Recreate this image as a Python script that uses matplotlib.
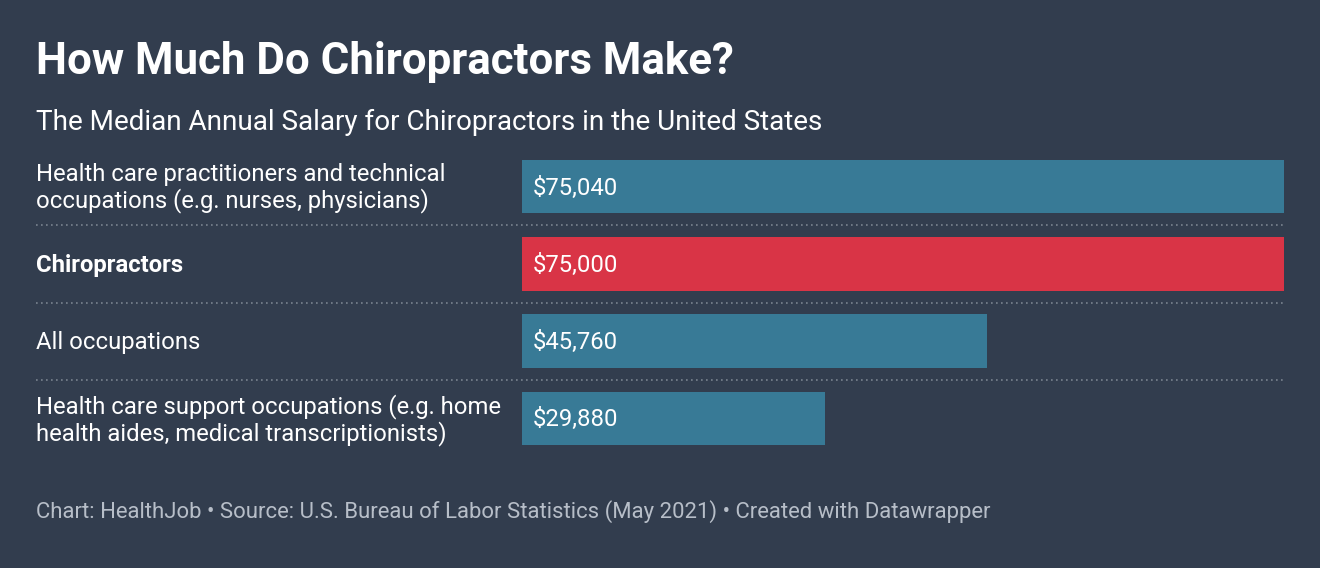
import matplotlib.pyplot as plt
import matplotlib.transforms as mtransforms

# data
categories = [
    "Health care practitioners and technical\noccupations (e.g. nurses, physicians)",
    "Chiropractors",
    "All occupations",
    "Health care support occupations (e.g. home\nhealth aides, medical transcriptionists)",
]
salaries = [75040, 75000, 45760, 29880]
value_labels = ["$75,040", "$75,000", "$45,760", "$29,880"]
highlight = [False, True, False, False]

bg = "#323d4e"
blue = "#387a96"
red = "#d93446"
plt.rcParams['font.family'] = ['Roboto', 'DejaVu Sans']

W, H = 1320, 568
fig = plt.figure(figsize=(W / 100, H / 100), dpi=100, facecolor=bg)

# axes placed in pixel coords: x 522..1284, y 148..457
ax = fig.add_axes([522 / W, 1 - 457 / H, (1284 - 522) / W, (457 - 148) / H])
ax.set_facecolor(bg)
ypos = list(range(len(categories)))
colors = [red if h else blue for h in highlight]
ax.barh(ypos, salaries, height=0.69, color=colors)
ax.set_xlim(0, max(salaries))
ax.set_ylim(len(categories) - 0.5, -0.5)
ax.axis('off')

for y, lab in zip(ypos, value_labels):
    ax.text(max(salaries) * 0.0145, y + 0.02, lab, color="white", fontsize=17.2,
            va="center", ha="left")

trans = mtransforms.blended_transform_factory(fig.transFigure, ax.transData)
for y, cat, h in zip(ypos, categories, highlight):
    ax.text(36 / W, y + 0.02, cat, transform=trans, color="white", fontsize=17.2,
            va="center", ha="left", fontweight="bold" if h else "normal",
            linespacing=1.12)

for y in [0.5, 1.5, 2.5]:
    ax.plot([36 / W, 1284 / W], [y, y], transform=trans, color="#7a8390",
            linestyle=(0, (1, 2)), linewidth=1.2, clip_on=False)

fig.text(36 / W, 1 - 62 / H, "How Much Do Chiropractors Make?", color="white",
         fontsize=31.6, fontweight="bold", va="center", ha="left")
fig.text(36 / W, 1 - 122 / H, "The Median Annual Salary for Chiropractors in the United States",
         color="white", fontsize=20.1, va="center", ha="left")
fig.text(36 / W, 1 - 512 / H,
         "Chart: HealthJob \u2022 Source: U.S. Bureau of Labor Statistics (May 2021) \u2022 Created with Datawrapper",
         color="#b7bec8", fontsize=15.9, va="center", ha="left")

fig.savefig("out.png", dpi=100, facecolor=bg)
